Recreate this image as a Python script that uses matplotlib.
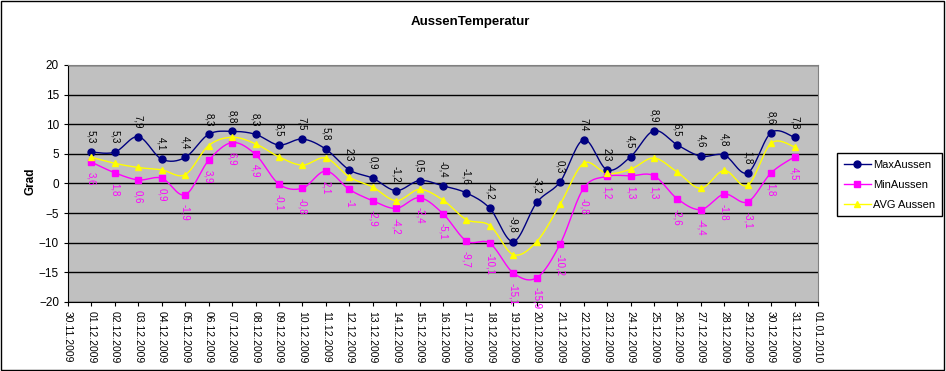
import numpy as np
import matplotlib.pyplot as plt
from matplotlib.patches import Rectangle

plt.rcParams["font.family"] = ["Liberation Sans", "DejaVu Sans"]

tick_labels = [
    "30.11.2009", "01.12.2009", "02.12.2009", "03.12.2009", "04.12.2009", "05.12.2009",
    "06.12.2009", "07.12.2009", "08.12.2009", "09.12.2009", "10.12.2009", "11.12.2009",
    "12.12.2009", "13.12.2009", "14.12.2009", "15.12.2009", "16.12.2009", "17.12.2009",
    "18.12.2009", "19.12.2009", "20.12.2009", "21.12.2009", "22.12.2009", "23.12.2009",
    "24.12.2009", "25.12.2009", "26.12.2009", "27.12.2009", "28.12.2009", "29.12.2009",
    "30.12.2009", "31.12.2009", "01.01.2010",
]

max_aussen = [5.3, 5.3, 7.9, 4.1, 4.4, 8.3, 8.8, 8.3, 6.5, 7.5, 5.8, 2.3, 0.9, -1.2, 0.5, -0.4,
              -1.6, -4.2, -9.8, -3.2, 0.3, 7.4, 2.3, 4.5, 8.9, 6.5, 4.6, 4.8, 1.8, 8.6, 7.8]
min_aussen = [3.6, 1.8, 0.6, 0.9, -1.9, 3.9, 6.9, 4.9, -0.1, -0.8, 2.1, -1, -2.9, -4.2, -2.4, -5.1,
              -9.7, -10.1, -15.1, -15.9, -10.2, -0.8, 1.2, 1.3, 1.3, -2.6, -4.4, -1.8, -3.1, 1.8, 4.5]
avg_aussen = [4.4, 3.4, 2.7, 2.3, 1.5, 6.4, 7.8, 6.7, 4.5, 3.1, 4.3, 1.1, -0.6, -2.9, -1.0, -2.8,
              -6.1, -7.1, -12.0, -9.8, -3.5, 3.4, 1.7, 2.4, 4.3, 1.9, -0.8, 2.2, -0.3, 6.8, 6.2]


def smooth(x, y, n=16):
    # Catmull-Rom curve through the points, like Excel's smoothed lines
    x = np.asarray(x, float)
    y = np.asarray(y, float)
    px = np.concatenate([[x[0]], x, [x[-1]]])
    py = np.concatenate([[y[0]], y, [y[-1]]])
    t = np.linspace(0, 1, n, endpoint=False)[:, None]
    xs, ys = [], []
    for i in range(1, len(px) - 2):
        for p, out in ((px, xs), (py, ys)):
            p0, p1, p2, p3 = p[i - 1], p[i], p[i + 1], p[i + 2]
            c = 0.5 * ((2 * p1) + (-p0 + p2) * t + (2 * p0 - 5 * p1 + 4 * p2 - p3) * t ** 2
                       + (-p0 + 3 * p1 - 3 * p2 + p3) * t ** 3)
            out.extend(c.ravel())
    xs.append(x[-1])
    ys.append(y[-1])
    return xs, ys


def fmt(v):
    s = ("%.1f" % v).rstrip("0").rstrip(".")
    return s.replace(".", ",")


days = np.arange(1, len(max_aussen) + 1)

fig = plt.figure(figsize=(9.46, 3.71), dpi=100)
fig.patches.append(Rectangle((0.001, 0.002), 0.997, 0.995, transform=fig.transFigure,
                             fill=False, edgecolor="black", linewidth=1))
ax = fig.add_axes([0.0719, 0.186, 0.7928, 0.6388])
ax.set_facecolor("#c0c0c0")

series = [
    ("MaxAussen", max_aussen, "#000080", "o"),
    ("MinAussen", min_aussen, "#ff00ff", "s"),
    ("AVG Aussen", avg_aussen, "#ffff00", "^"),
]
handles = []
for name, vals, col, mk in series:
    sx, sy = smooth(days, vals)
    ax.plot(sx, sy, color=col, linewidth=1, zorder=3)
    ax.plot(days, vals, linestyle="none", marker=mk, color=col, markersize=5, zorder=4)
    h, = ax.plot([], [], color=col, linewidth=1, marker=mk, markersize=5, label=name)
    handles.append(h)

for d, v in zip(days, max_aussen):
    ax.annotate(fmt(v), (d, v), xytext=(0, 6), textcoords="offset points",
                rotation=270, ha="center", va="bottom", fontsize=7, color="black", zorder=5)
for d, v in zip(days, min_aussen):
    ax.annotate(fmt(v), (d, v), xytext=(0, -7), textcoords="offset points",
                rotation=270, ha="center", va="top", fontsize=7, color="#ff00ff", zorder=5)

ax.set_xlim(0, len(tick_labels) - 1)
ax.set_ylim(-20, 20)
ax.set_yticks(np.arange(-20, 21, 5))
ax.set_xticks(np.arange(len(tick_labels)))
ax.set_xticklabels(tick_labels, rotation=270, fontsize=7.5)
ax.tick_params(axis="y", labelsize=8.5, length=3, direction="out")
ax.tick_params(axis="x", length=3, direction="out")
ax.grid(axis="y", color="black", linewidth=1)
ax.set_axisbelow(True)
for s in ("top", "right"):
    ax.spines[s].set_color("#808080")
for s in ("left", "bottom"):
    ax.spines[s].set_color("black")

fig.text(0.497, 0.941, "AussenTemperatur", ha="center", va="center", fontsize=9.5, fontweight="bold")
fig.text(0.032, 0.512, "Grad", ha="center", va="center", rotation=90, fontsize=8.5, fontweight="bold")

leg = fig.legend(handles=handles, loc="upper left", bbox_to_anchor=(0.885, 0.588),
                 fontsize=8, frameon=True, fancybox=False, edgecolor="black",
                 framealpha=1, handlelength=2.4, handletextpad=0.2, borderpad=0.6,
                 labelspacing=0.9, borderaxespad=0)
leg.get_frame().set_linewidth(1)

fig.savefig("out.png", dpi=100)
